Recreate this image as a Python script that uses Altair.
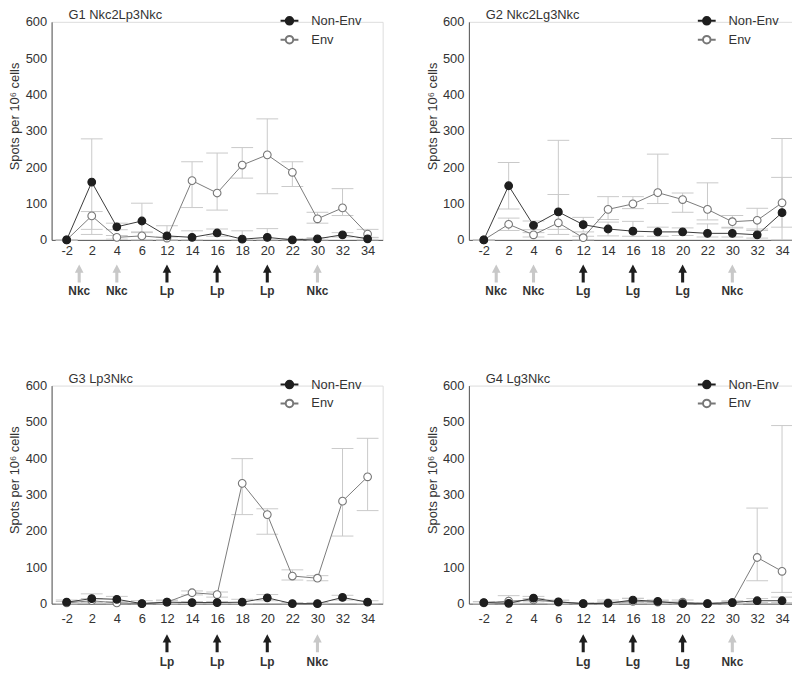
import altair as alt
import pandas as pd

days = ["-2", "2", "4", "6", "12", "14", "16", "18", "20", "22", "30", "32", "34"]
series_order = ["Non-Env", "Env"]

# ---- G1 ----
g1_title = "G1 Nkc2Lp3Nkc"
g1_ne = [0, 159, 36, 52, 11, 7, 19, 2, 7, 0, 3, 14, 3]
g1_ne_lo = [0, 29, 28, 20, 0, 0, 10, 0, 0, 0, 0, 8, 0]
g1_ne_hi = [0, 278, 46, 101, 39, 25, 30, 25, 31, 3, 6, 20, 6]
g1_e = [0, 66, 7, 11, 5, 163, 129, 206, 234, 186, 58, 88, 16]
g1_e_lo = [0, 15, 2, 0, 0, 89, 82, 170, 127, 147, 46, 67, 7]
g1_e_hi = [0, 78, 12, 22, 8, 215, 239, 254, 333, 215, 76, 141, 29]
g1_arrow_pos = [0.5, 2, 4, 6, 8, 10]
g1_arrow_lab = ["Nkc", "Nkc", "Lp", "Lp", "Lp", "Nkc"]

# ---- G2 ----
g2_title = "G2 Nkc2Lg3Nkc"
g2_ne = [0, 149, 40, 77, 42, 30, 24, 22, 22, 18, 18, 14, 75]
g2_ne_lo = [0, 85, 28, 29, 22, 11, 10, 10, 12, 8, 8, 5, 0]
g2_ne_hi = [0, 213, 52, 125, 62, 49, 51, 35, 33, 44, 35, 30, 172]
g2_e = [0, 43, 14, 47, 6, 84, 99, 130, 111, 84, 50, 54, 102]
g2_e_lo = [0, 26, 8, 15, 0, 56, 86, 100, 76, 55, 33, 26, 35]
g2_e_hi = [0, 60, 20, 274, 10, 119, 119, 236, 129, 157, 67, 87, 279]
g2_arrow_pos = [0.5, 2, 4, 6, 8, 10]
g2_arrow_lab = ["Nkc", "Nkc", "Lg", "Lg", "Lg", "Nkc"]

# ---- G3 ----
g3_title = "G3 Lp3Nkc"
g3_ne = [4, 14, 12, 0, 4, 3, 3, 4, 16, 0, 0, 17, 4]
g3_ne_lo = [0, 4, 4, 0, 0, 0, 0, 0, 8, 0, 0, 10, 0]
g3_ne_hi = [10, 27, 20, 8, 10, 6, 6, 12, 25, 3, 3, 23, 8]
g3_e = [2, 8, 2, 0, 4, 30, 25, 331, 245, 76, 70, 282, 349]
g3_e_lo = [0, 2, 0, 0, 0, 24, 18, 245, 191, 65, 63, 186, 256]
g3_e_hi = [6, 14, 6, 2, 8, 35, 32, 399, 261, 93, 77, 427, 455]
g3_arrow_pos = [4, 6, 8, 10]
g3_arrow_lab = ["Lp", "Lp", "Lp", "Nkc"]

# ---- G4 ----
g4_title = "G4 Lg3Nkc"
g4_ne = [3, 1, 15, 5, 0, 1, 10, 6, 0, 0, 3, 8, 8]
g4_ne_lo = [0, 0, 10, 0, 0, 0, 5, 2, 0, 0, 0, 3, 3]
g4_ne_hi = [6, 5, 20, 10, 2, 5, 15, 10, 3, 2, 6, 14, 18]
g4_e = [2, 7, 10, 4, 0, 2, 6, 4, 4, 0, 3, 127, 89]
g4_e_lo = [0, 2, 5, 0, 0, 0, 2, 0, 0, 0, 0, 63, 31]
g4_e_hi = [5, 22, 14, 8, 2, 10, 14, 8, 10, 2, 8, 263, 490]
g4_arrow_pos = [4, 6, 8, 10]
g4_arrow_lab = ["Lg", "Lg", "Lg", "Nkc"]

y_ticks = [0, 100, 200, 300, 400, 500, 600]

FONT = "Liberation Sans"
TXT = "#333333"
H = 220
ARROW = "M0,-1L0.48,-0.1L0.17,-0.1L0.17,1L-0.17,1L-0.17,-0.1L-0.48,-0.1Z"
LEG_SYM = "M-1,0L-0.42,0M0.42,0L1,0M0.42,0A0.42,0.42,0,1,1,-0.42,0A0.42,0.42,0,1,1,0.42,0Z"


def panel(title, ne, ne_lo, ne_hi, e, e_lo, e_hi, apos, alab, bottom, W):
    rows = []
    for i, d in enumerate(days):
        rows.append(dict(pos=i, day=d, series="Env", v=e[i], lo=e_lo[i], hi=e_hi[i]))
    for i, d in enumerate(days):
        rows.append(dict(pos=i, day=d, series="Non-Env", v=ne[i], lo=ne_lo[i], hi=ne_hi[i]))
    df = pd.DataFrame(rows)
    arr = pd.DataFrame(dict(pos=apos, label=alab))
    tdf = pd.DataFrame(dict(t=[title]))

    label_expr = "[" + ",".join("'%s'" % d for d in days) + "][datum.value]"
    xs = alt.Scale(domain=[-0.6, 12.6], nice=False, zero=False)
    ys = alt.Scale(domain=[0, 600], nice=False)
    xaxis = alt.Axis(values=list(range(len(days))), labelExpr=label_expr, title=None,
                     ticks=False, tickSize=0, grid=False, labelPadding=9 if bottom else 5,
                     labelFontSize=13, labelColor=TXT, labelFont=FONT,
                     domainColor="#555555", labelFlush=False, labelOverlap=False)
    yaxis = alt.Axis(values=y_ticks, title="Spots per 10\u2076 cells", grid=False,
                     ticks=False, tickSize=0, labelPadding=5, labelFontSize=13,
                     labelColor=TXT, labelFont=FONT, domainColor="#555555",
                     labelOverlap=False,
                     titleFontSize=13, titleFont=FONT, titleColor=TXT,
                     titleFontWeight="normal", titleX=-30, titleY=95, titleAlign="center")

    def X():
        return alt.X("pos:Q", scale=xs, axis=xaxis)

    def Y(f):
        return alt.Y(f, type="quantitative", scale=ys, axis=yaxis)

    base = alt.Chart(df)
    err = base.mark_rule(color="#c9c9c9", strokeWidth=1).encode(
        x=X(), y=Y("lo"), y2="hi:Q")
    cap_lo = base.mark_tick(orient="horizontal", color="#c9c9c9", size=22, thickness=1,
                            opacity=1).encode(x=X(), y=Y("lo"))
    cap_hi = base.mark_tick(orient="horizontal", color="#c9c9c9", size=22, thickness=1,
                            opacity=1).encode(x=X(), y=Y("hi"))
    line_e = base.transform_filter(alt.datum.series == "Env").mark_line(
        color="#7a7a7a", strokeWidth=1).encode(x=X(), y=Y("v"))
    line_ne = base.transform_filter(alt.datum.series == "Non-Env").mark_line(
        color="#3a3a3a", strokeWidth=1).encode(x=X(), y=Y("v"))

    leg = alt.Legend(title=None, orient="none", legendX=230, legendY=-11,
                     symbolType=LEG_SYM, symbolSize=324, symbolStrokeWidth=2,
                     labelFontSize=13, labelFont=FONT, labelColor=TXT,
                     labelOffset=12, rowPadding=1, padding=0)
    pts = base.mark_point(size=60, opacity=1, strokeWidth=1.1, filled=False).encode(
        x=X(), y=Y("v"),
        stroke=alt.Stroke("series:N", scale=alt.Scale(domain=series_order,
                                                      range=["#1e1e1e", "#777777"]),
                          legend=leg),
        fill=alt.Fill("series:N", scale=alt.Scale(domain=series_order,
                                                  range=["#1e1e1e", "#ffffff"]),
                      legend=leg),
    )

    ab = alt.Chart(arr)
    arrows = ab.mark_point(shape=ARROW, size=330, filled=True, opacity=1, strokeWidth=0).encode(
        x=X(), y=alt.value(H + (40 if bottom else 34)),
        color=alt.condition(alt.datum.label == "Nkc", alt.value("#c8c8c8"), alt.value("#1e1e1e")))
    labels = ab.mark_text(fontSize=12, fontWeight="bold", font=FONT, color=TXT,
                          baseline="middle").encode(
        x=X(), y=alt.value(H + (59 if bottom else 52)), text="label:N")

    ttl = alt.Chart(tdf).mark_text(fontSize=13, font=FONT, color=TXT, align="left",
                                   baseline="middle").encode(
        x=alt.value(17), y=alt.value(-7), text="t:N")

    return alt.layer(err, cap_lo, cap_hi, line_e, line_ne, pts, arrows, labels, ttl).properties(
        width=W, height=H)


p1 = panel(g1_title, g1_ne, g1_ne_lo, g1_ne_hi, g1_e, g1_e_lo, g1_e_hi, g1_arrow_pos, g1_arrow_lab, False, 334)
p2 = panel(g2_title, g2_ne, g2_ne_lo, g2_ne_hi, g2_e, g2_e_lo, g2_e_hi, g2_arrow_pos, g2_arrow_lab, False, 331)
p3 = panel(g3_title, g3_ne, g3_ne_lo, g3_ne_hi, g3_e, g3_e_lo, g3_e_hi, g3_arrow_pos, g3_arrow_lab, True, 334)
p4 = panel(g4_title, g4_ne, g4_ne_lo, g4_ne_hi, g4_e, g4_e_lo, g4_e_hi, g4_arrow_pos, g4_arrow_lab, True, 331)

row1 = alt.hconcat(p1, p2, spacing=42).resolve_scale(stroke="independent", fill="independent").resolve_legend(stroke="independent", fill="independent")
row2 = alt.hconcat(p3, p4, spacing=42).resolve_scale(stroke="independent", fill="independent").resolve_legend(stroke="independent", fill="independent")

chart = alt.vconcat(row1, row2, spacing=74).resolve_scale(
    stroke="independent", fill="independent").resolve_legend(
    stroke="independent", fill="independent").properties(
    padding={"top": -3, "left": 0, "right": -6, "bottom": 0}).configure_view(
    stroke=None).configure(font=FONT).configure_axis(
    labelOverlap=False, labelFontSize=13, titleFontSize=13, labelColor=TXT,
    titleColor=TXT, titleFontWeight="normal")

chart.save("out.html", embed_options={"renderer": "svg", "actions": False})
